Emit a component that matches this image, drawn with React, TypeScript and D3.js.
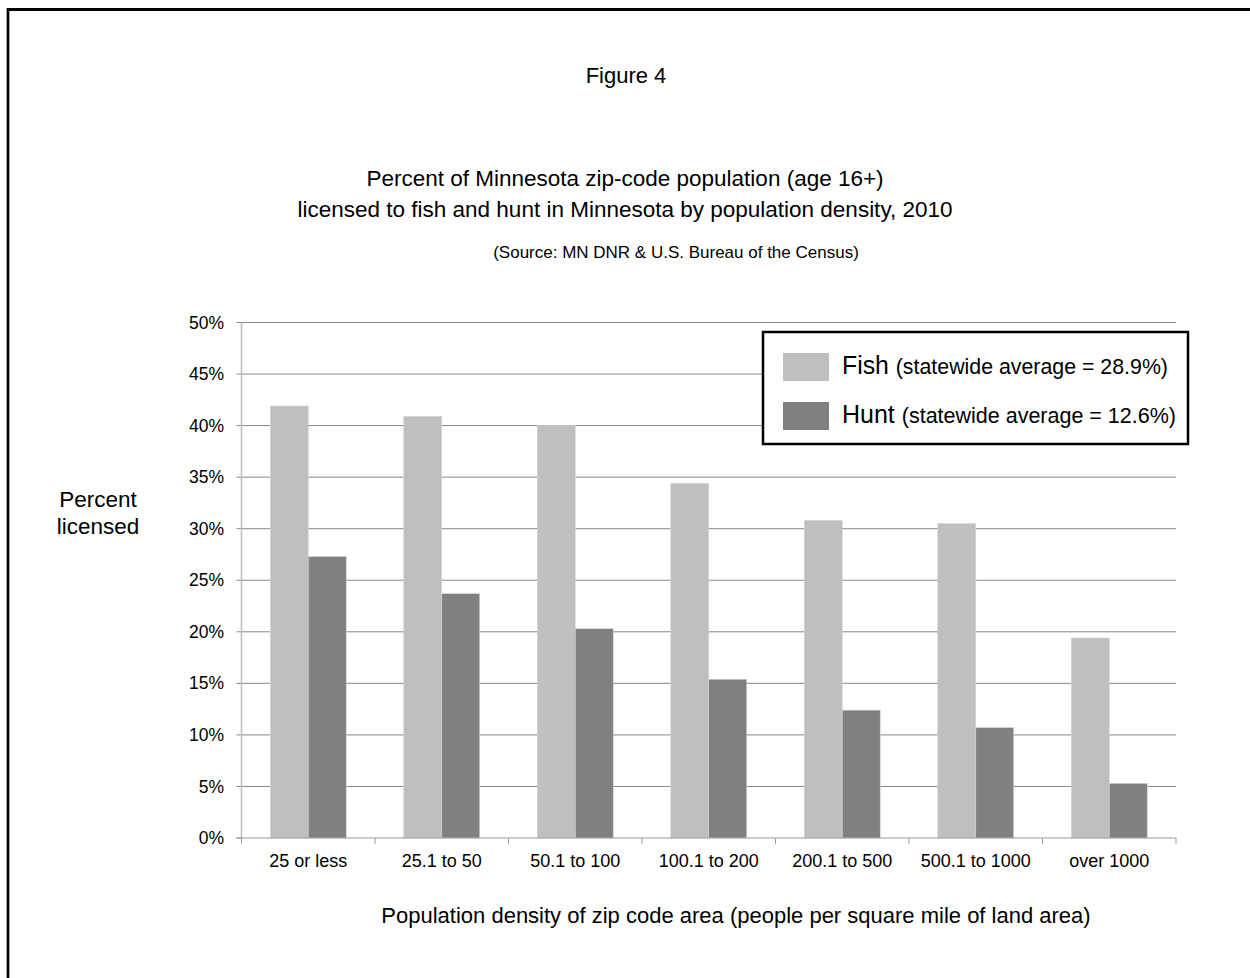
import React from "react";
import * as d3 from "d3";

const categories = [
  "25 or less",
  "25.1 to 50",
  "50.1 to 100",
  "100.1 to 200",
  "200.1 to 500",
  "500.1 to 1000",
  "over 1000",
];
const series = ["Fish", "Hunt"];
const fishValues = [41.9, 40.9, 40.0, 34.4, 30.8, 30.5, 19.4];
const huntValues = [27.3, 23.7, 20.3, 15.4, 12.4, 10.7, 5.3];
const yTicks = [0, 5, 10, 15, 20, 25, 30, 35, 40, 45, 50];
const legendNotes = ["(statewide average = 28.9%)", "(statewide average = 12.6%)"];

const W = 1250;
const H = 978;
const font = "'Liberation Sans', Arial, sans-serif";
const colors: Record<string, string> = { Fish: "#BFBFBF", Hunt: "#808080" };

export default function App() {
  // plot area
  const left = 241.5;
  const right = 1176;
  const top = 322.5;
  const bottom = 838;

  const x0 = d3.scaleBand<string>().domain(categories).range([left, right]).padding(0);
  const x1 = d3
    .scaleBand<string>()
    .domain(series)
    .range([0, x0.bandwidth()])
    .paddingInner(0)
    .paddingOuter(0.757);
  const y = d3.scaleLinear().domain([0, 50]).range([bottom, top]);

  const rows = categories.map((c, i) => ({ c, Fish: fishValues[i], Hunt: huntValues[i] }));

  return (
    <svg
      width={W}
      height={H}
      style={{ position: "absolute", left: 0, top: 0, background: "#fff" }}
      fontFamily={font}
    >
      {/* frame */}
      <line x1={8} x2={W} y1={9.5} y2={9.5} stroke="#000" strokeWidth={3} />
      <line x1={8} x2={8} y1={8} y2={H} stroke="#000" strokeWidth={2.7} />

      {/* titles */}
      <text x={626} y={83} textAnchor="middle" fontSize={22}>
        Figure 4
      </text>
      <text x={625} y={186} textAnchor="middle" fontSize={22.5}>
        Percent of Minnesota zip-code population (age 16+)
      </text>
      <text x={625} y={217} textAnchor="middle" fontSize={22.5}>
        licensed to fish and hunt in Minnesota by population density, 2010
      </text>
      <text x={676} y={258} textAnchor="middle" fontSize={17}>
        (Source: MN DNR &amp; U.S. Bureau of the Census)
      </text>

      {/* gridlines + y ticks */}
      {yTicks.map((t) => (
        <g key={t}>
          {t > 0 && (
            <line x1={left} x2={right} y1={y(t)} y2={y(t)} stroke="#868686" strokeWidth={1} />
          )}
          <line x1={left - 5} x2={left} y1={y(t)} y2={y(t)} stroke="#868686" strokeWidth={1} />
          <text x={224} y={y(t)} dy="0.35em" textAnchor="end" fontSize={17.5}>
            {t}%
          </text>
        </g>
      ))}

      {/* bars */}
      {rows.map((r) => (
        <g key={r.c} transform={`translate(${x0(r.c)},0)`}>
          {series.map((s) => (
            <rect
              key={s}
              x={x1(s)}
              y={y((r as any)[s])}
              width={x1.bandwidth()}
              height={bottom - y((r as any)[s])}
              fill={colors[s]}
              stroke="#d6d6d6"
              strokeWidth={0.6}
            />
          ))}
        </g>
      ))}

      {/* axes */}
      <line x1={left} x2={left} y1={top} y2={bottom} stroke="#BDBDBD" strokeWidth={1.5} />
      <line x1={left - 5} x2={right} y1={bottom} y2={bottom} stroke="#9A9A9A" strokeWidth={1.2} />
      {[...categories.map((c) => x0(c) as number), right].map((v, i) => (
        <line key={i} x1={v} x2={v} y1={bottom} y2={bottom + 6} stroke="#9A9A9A" strokeWidth={1} />
      ))}
      {categories.map((c) => (
        <text
          key={c}
          x={(x0(c) as number) + x0.bandwidth() / 2}
          y={867}
          textAnchor="middle"
          fontSize={18}
        >
          {c}
        </text>
      ))}

      {/* axis titles */}
      <text x={98} y={507} textAnchor="middle" fontSize={22.5}>
        Percent
      </text>
      <text x={98} y={534} textAnchor="middle" fontSize={22.5}>
        licensed
      </text>
      <text x={736} y={923} textAnchor="middle" fontSize={22}>
        Population density of zip code area (people per square mile of land area)
      </text>

      {/* legend */}
      <rect x={763} y={332} width={425} height={112} fill="#fff" stroke="#000" strokeWidth={2.5} />
      {series.map((s, i) => (
        <g key={s}>
          <rect x={783} y={353 + i * 49} width={46} height={28} fill={colors[s]} />
          <text
            x={842}
            y={374 + i * 49}
            textLength={i === 0 ? 326 : 334}
            lengthAdjust="spacingAndGlyphs"
          >
            <tspan fontSize={25}>{s} </tspan>
            <tspan fontSize={21.5}>{legendNotes[i]}</tspan>
          </text>
        </g>
      ))}
    </svg>
  );
}
